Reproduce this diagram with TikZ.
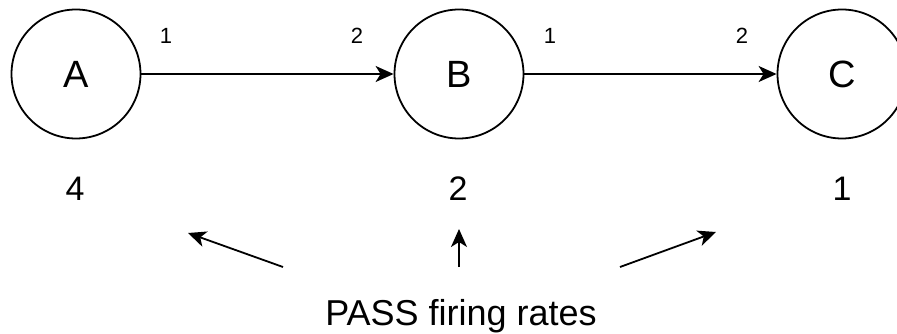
\documentclass[tikz,border=0pt]{standalone}
\usepackage{fontspec}
\setsansfont{Liberation Sans}
\usetikzlibrary{arrows.meta,positioning,calc}

\begin{document}
\begin{tikzpicture}[
  x=1pt, y=-1pt,
  font=\sffamily,
  >={Stealth[length=18pt, width=16pt, inset=5pt]},
  place/.style={draw, circle, line width=1.8pt, minimum size=129pt, inner sep=0pt, font=\sffamily\fontsize{38}{40}\selectfont},
  weight/.style={font=\sffamily\fontsize{22}{24}\selectfont},
  rate/.style={font=\sffamily\fontsize{34}{36}\selectfont},
  caption/.style={font=\sffamily\fontsize{36}{38}\selectfont},
  flow/.style={->, line width=1.8pt},
  hint/.style={->, line width=1.8pt}
]
\useasboundingbox (0,0) rectangle (897,334);

\node[place] (A) at (76,74) {A};
\node[place] (B) at (459,74) {B};
\node[place] (C) at (842,74) {C};

\draw[flow] (A) -- (B);
\draw[flow] (B) -- (C);

\node[weight] (wA1) at (166,36) {1};
\node[weight] (wB2) at (357,36) {2};
\node[weight] (wB1) at (550,36) {1};
\node[weight] (wC2) at (742,36) {2};

% firing rates
\node[rate] (rA) at (75,189) {4};
\node[rate] (rB) at (458,189) {2};
\node[rate] (rC) at (842,189) {1};

\node[caption, anchor=base] (pass) at (461,325) {PASS firing rates};

\coordinate (tA) at (283,267);
\coordinate (hA) at (188,233);
\coordinate (tB) at (459,267);
\coordinate (hB) at (459,229);
\coordinate (tC) at (620,267);
\coordinate (hC) at (716,232);

\draw[hint] (tA) -- (hA);
\draw[hint] (tB) -- (hB);
\draw[hint] (tC) -- (hC);

\end{tikzpicture}
\end{document}
